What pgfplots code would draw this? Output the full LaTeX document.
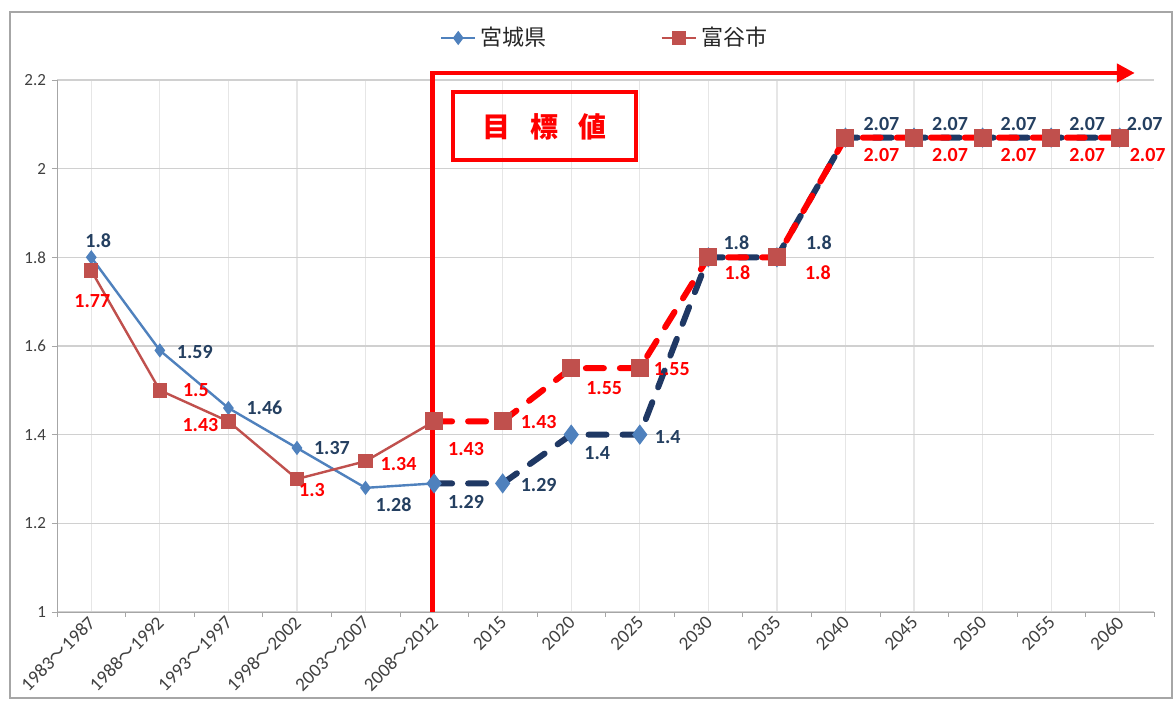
\documentclass[border=0pt]{standalone}
\usepackage{pgfplots}
\usepackage{pgfplotstable}
\pgfplotsset{compat=1.18}
\usepackage{fontspec}
\setmainfont{Carlito}
\newfontfamily\cjk{Noto Sans CJK JP}
\usetikzlibrary{arrows.meta}
\definecolor{bl}{HTML}{4F81BD}
\definecolor{rb}{HTML}{C0504D}
\definecolor{nv}{HTML}{1F3864}
\definecolor{nvt}{HTML}{243F60}
\definecolor{gridc}{HTML}{D0D0D0}
\definecolor{vgridc}{HTML}{E6E6E6}
\definecolor{framec}{HTML}{A6A6A6}
\definecolor{tickc}{HTML}{404040}

\pgfplotstableread{
x y
0 1.80
1 1.59
2 1.46
3 1.37
4 1.28
5 1.29
}\miyagiA
\pgfplotstableread{
x y
5 1.29
6 1.29
7 1.40
8 1.40
9 1.80
10 1.80
11 2.07
12 2.07
13 2.07
14 2.07
15 2.07
}\miyagiB
\pgfplotstableread{
x y
0 1.77
1 1.50
2 1.43
3 1.30
4 1.34
5 1.43
}\tomiyaA
\pgfplotstableread{
x y
5 1.43
6 1.43
7 1.55
8 1.55
9 1.80
10 1.80
11 2.07
12 2.07
13 2.07
14 2.07
15 2.07
}\tomiyaB
% dx, dy: label offsets in pt
\pgfplotstableread{
x y dx dy lab
0 1.80 3.5 8.5 1.8
1 1.59 17.5 -1 1.59
2 1.46 18 0 1.46
3 1.37 17.5 0 1.37
4 1.28 14 -8.5 1.28
5 1.29 16 -9.5 1.29
6 1.29 18 -1 1.29
7 1.40 13 -9 1.4
8 1.40 14 -1 1.4
9 1.80 14 7.5 1.8
10 1.80 21 7.5 1.8
11 2.07 18 7 2.07
12 2.07 18 7 2.07
13 2.07 18 7 2.07
14 2.07 18 7 2.07
15 2.07 12.5 7 2.07
}\miyagiL
\pgfplotstableread{
x y dx dy lab
0 1.77 0.5 -15 1.77
1 1.50 18 0 1.5
2 1.43 -14 -2 1.43
3 1.30 7.5 -5.5 1.3
4 1.34 16.5 -1.5 1.34
5 1.43 16 -14 1.43
6 1.43 18 -0.5 1.43
7 1.55 16.5 -10 1.55
8 1.55 16 -0.5 1.55
9 1.80 14.5 -7.5 1.8
10 1.80 20.5 -7.5 1.8
11 2.07 18 -8.5 2.07
12 2.07 18 -8.5 2.07
13 2.07 18 -8.5 2.07
14 2.07 18 -8.5 2.07
15 2.07 14 -8.5 2.07
}\tomiyaL

\begin{document}
\begin{tikzpicture}
\useasboundingbox[fill=white] (0,0) rectangle (587.5pt,352pt);
\draw[framec, line width=1pt] (5pt,3pt) rectangle (586pt,346pt);
\begin{axis}[
  at={(28.5pt,46pt)}, anchor=south west,
  scale only axis, width=548.5pt, height=266pt,
  xmin=-0.5, xmax=15.5, ymin=1, ymax=2.2,
  clip=false,
  axis x line*=bottom, axis y line*=left,
  axis line style={framec},
  xtick={0,...,15},
  xticklabels={1983{\cjk ～}1987,1988{\cjk ～}1992,1993{\cjk ～}1997,1998{\cjk ～}2002,2003{\cjk ～}2007,2008{\cjk ～}2012,2015,2020,2025,2030,2035,2040,2045,2050,2055,2060},
  ytick={1,1.2,...,2.2},
  minor xtick={-0.5,0.5,...,15.5},
  minor ytick={1,1.2,...,2.2},
  major tick length=0pt,
  minor tick length=2.5pt,
  tick align=outside,
  tick style={framec},
  xmajorgrids, ymajorgrids,
  x grid style={vgridc, line width=0.6pt},
  y grid style={gridc, line width=0.6pt},
  /pgf/number format/assume math mode=true,
  yticklabel style={font=\fontsize{8.5}{10}\selectfont, text=tickc, xshift=-2pt},
  xticklabel style={font=\fontsize{9.5}{10}\selectfont, text=tickc, rotate=45, anchor=east, yshift=-3pt, xshift=1pt},
  legend columns=2,
  legend style={at={(0.5,1)}, anchor=center, yshift=21pt, draw=none, fill=none,
    font=\cjk\fontsize{11}{13}\selectfont, text=black!85,
    /tikz/every even column/.append style={column sep=55pt}},
]
\addplot[bl, line width=1.2pt, mark=diamond*, mark size=2.6pt, mark options={fill=bl, draw=bl}] table[x=x,y=y] {\miyagiA};
\addlegendentry{宮城県}
\addplot[rb, line width=1.2pt, mark=square*, mark size=3pt, mark options={fill=rb, draw=rb}] table[x=x,y=y] {\tomiyaA};
\addlegendentry{富谷市}
\addplot[forget plot, nv, line width=3pt, line cap=round, dash pattern=on 9pt off 8pt, mark=diamond*, mark size=2.6pt, mark options={solid, fill=bl, draw=bl}] table[x=x,y=y] {\miyagiB};
\addplot[forget plot, red, line width=3pt, line cap=round, dash pattern=on 9pt off 8pt, mark=square*, mark size=3pt, mark options={solid, fill=rb, draw=rb}] table[x=x,y=y] {\tomiyaB};

\draw[red, line width=2.2pt, -{Triangle[length=9pt,width=9pt]}] (axis cs:4.976,1) -- (axis cs:4.976,2.2158) -- (axis cs:15.22,2.2158);
\draw[red, line width=2pt] (axis cs:5.27,2.0195) rectangle (axis cs:7.95,2.173);
\node[text=red, font=\cjk\bfseries\fontsize{14}{16}\selectfont] at (axis cs:6.61,2.094) {目\hspace{10pt}標\hspace{10pt}値};

% labels: 1 unit in x = 34.28pt, 1 unit in y = 221.65pt
\addplot[forget plot, draw=none, mark=none, nodes near coords, point meta=explicit symbolic,
  every node near coord/.append style={anchor=center, font=\bfseries\fontsize{10}{12}\selectfont, text=nvt}]
  table[x expr=\thisrow{x}+\thisrow{dx}/34.28, y expr=\thisrow{y}+\thisrow{dy}/221.65, meta=lab] {\miyagiL};
\addplot[forget plot, draw=none, mark=none, nodes near coords, point meta=explicit symbolic,
  every node near coord/.append style={anchor=center, font=\bfseries\fontsize{10}{12}\selectfont, text=red}]
  table[x expr=\thisrow{x}+\thisrow{dx}/34.28, y expr=\thisrow{y}+\thisrow{dy}/221.65, meta=lab] {\tomiyaL};
\end{axis}
\end{tikzpicture}
\end{document}
